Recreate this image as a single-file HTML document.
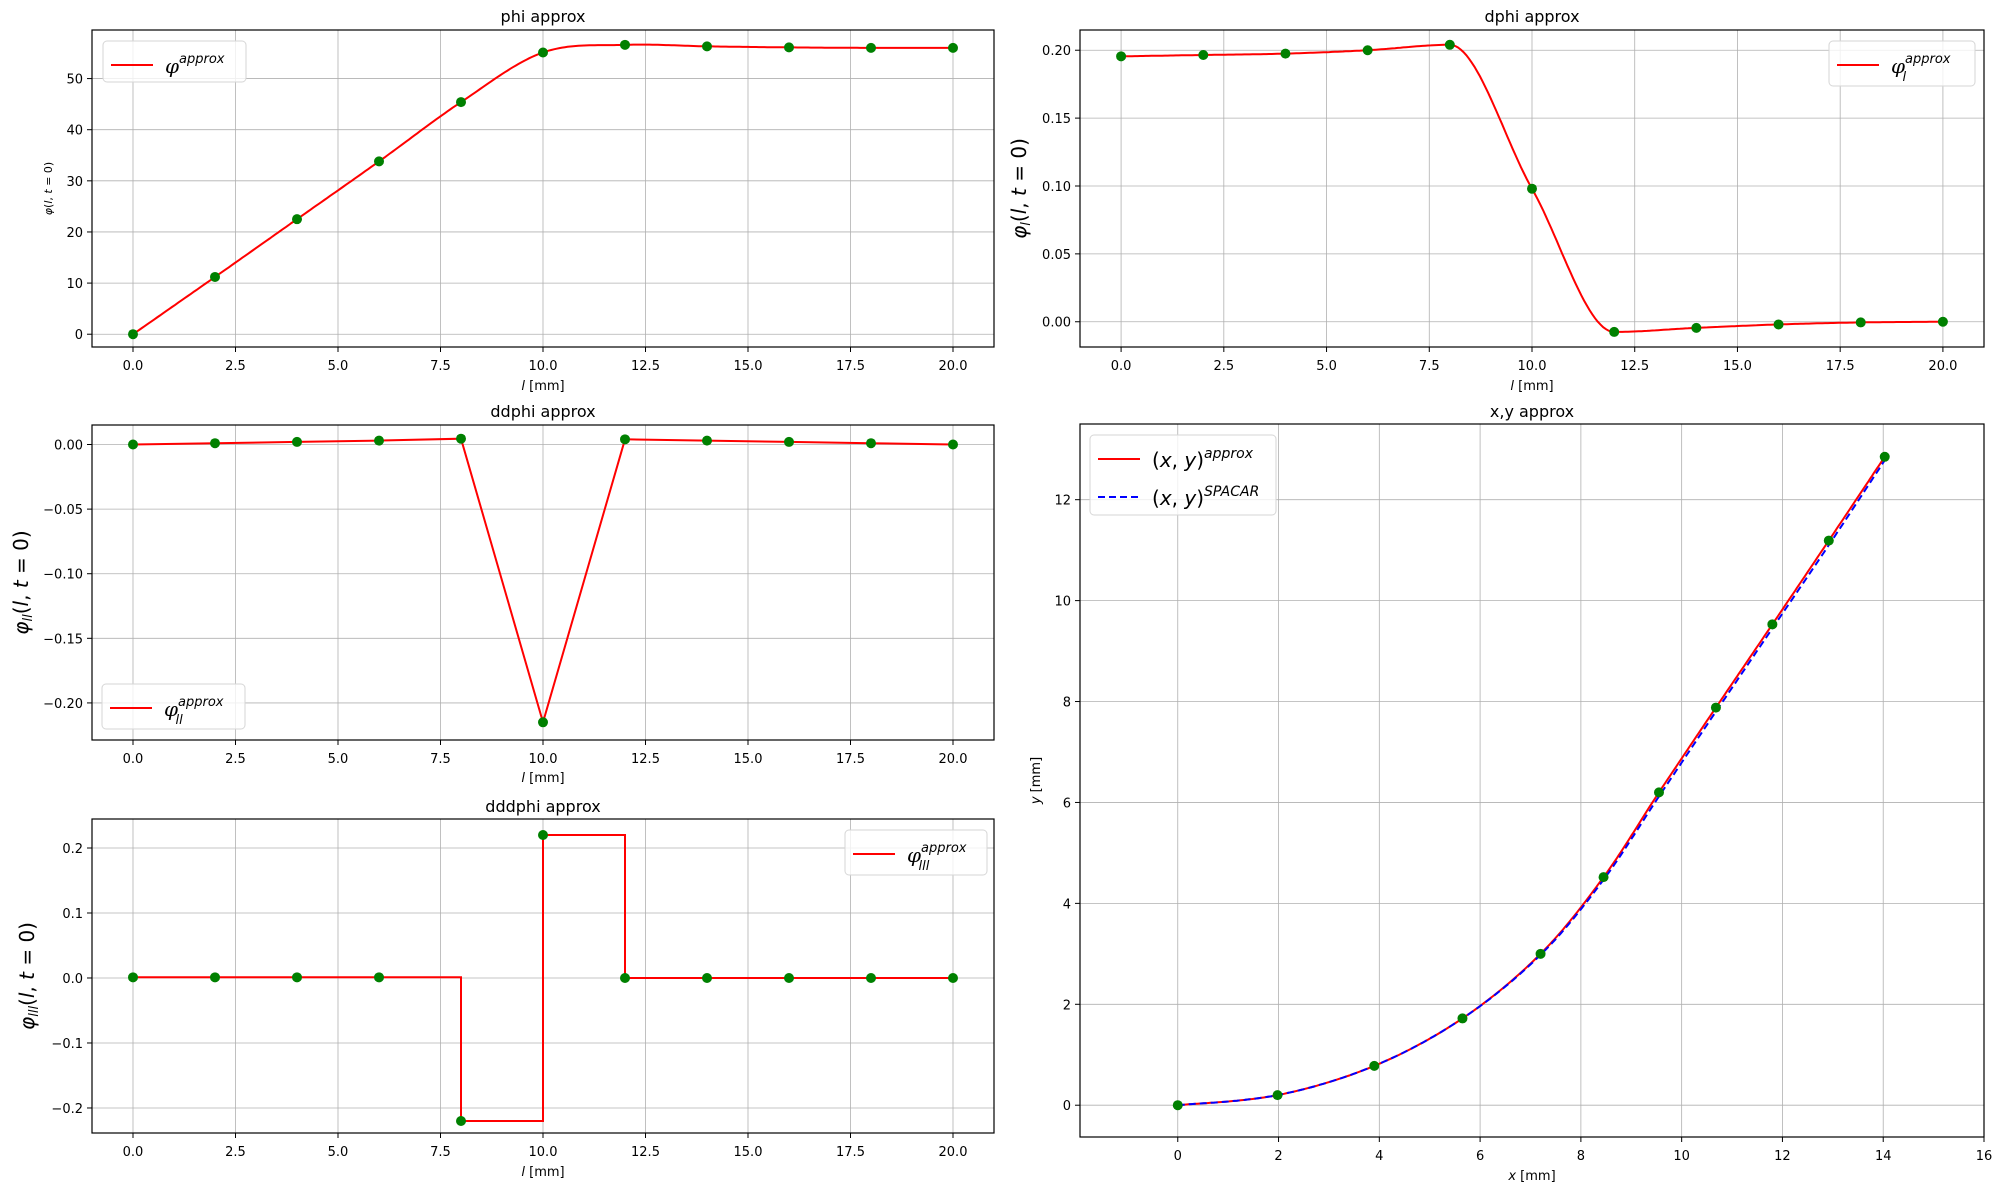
<!DOCTYPE html>
<html><head><meta charset="utf-8"><style>
body{margin:0;background:#fff}
svg{display:block;font-family:"DejaVu Sans","Liberation Sans",sans-serif}
</style></head><body>
<svg id="fig" width="1997" height="1189" viewBox="0 0 1997 1189" xmlns="http://www.w3.org/2000/svg"></svg>
<script>
const lPts=[0,2,4,6,8,10,12,14,16,18,20];
const phiVals=[0,11.2,22.5,33.8,45.4,55.1,56.6,56.3,56.1,56.0,56.0];
const dphiVals=[0.1955,0.1965,0.1975,0.200,0.204,0.098,-0.0075,-0.0045,-0.002,-0.0005,0];
const ddphiVals=[0,0.001,0.002,0.003,0.0045,-0.215,0.004,0.003,0.002,0.001,0];
const dddphiVals=[0.001,0.001,0.001,0.001,-0.22,0.22,0,0,0,0,0];
const xyX=[0,1.98,3.9,5.65,7.2,8.45,9.55,10.68,11.8,12.92,14.03];
const xyY=[0,0.2,0.78,1.72,3.0,4.52,6.2,7.88,9.53,11.19,12.85];
const spX=[0,1.98,3.9,5.65,7.2,8.45,9.55,10.68,11.8,12.92,14.03];
const spY=[0,0.2,0.78,1.72,2.98,4.47,6.12,7.8,9.45,11.1,12.78];
const lTicks=[0,2.5,5,7.5,10,12.5,15,17.5,20];
const lTickLabels=["0.0","2.5","5.0","7.5","10.0","12.5","15.0","17.5","20.0"];

const NS="http://www.w3.org/2000/svg";
const svg=document.getElementById('fig');
function mk(tag,attrs,parent){const e=document.createElementNS(NS,tag);for(const k in attrs)e.setAttribute(k,attrs[k]);(parent||svg).appendChild(e);return e;}
function txt(s,attrs,parent){const e=mk('text',attrs,parent);e.innerHTML=s;return e;}

function catmull(px,py,n){const out=[];for(let i=0;i<px.length-1;i++){const p0=[px[Math.max(i-1,0)],py[Math.max(i-1,0)]],p1=[px[i],py[i]],p2=[px[i+1],py[i+1]],p3=[px[Math.min(i+2,px.length-1)],py[Math.min(i+2,px.length-1)]];for(let k=0;k<n;k++){const t=k/n,t2=t*t,t3=t2*t;const f=(a,b,c,d)=>0.5*(2*b+(-a+c)*t+(2*a-5*b+4*c-d)*t2+(-a+3*b-3*c+d)*t3);out.push([f(p0[0],p1[0],p2[0],p3[0]),f(p0[1],p1[1],p2[1],p3[1])]);}}out.push([px[px.length-1],py[py.length-1]]);return out;}
function monotone(px,py,n){const N=px.length,d=[],m=[];for(let i=0;i<N-1;i++)d.push((py[i+1]-py[i])/(px[i+1]-px[i]));
  m[0]=d[0];m[N-1]=d[N-2];for(let i=1;i<N-1;i++){m[i]=(d[i-1]*d[i]<=0)?0:(d[i-1]+d[i])/2;}
  for(let i=0;i<N-1;i++){if(d[i]===0){m[i]=0;m[i+1]=0;continue;}const a=m[i]/d[i],b=m[i+1]/d[i],s=a*a+b*b;if(s>9){const t=3/Math.sqrt(s);m[i]=t*a*d[i];m[i+1]=t*b*d[i];}}
  const out=[];for(let i=0;i<N-1;i++){const h=px[i+1]-px[i];for(let k=0;k<n;k++){const t=k/n,t2=t*t,t3=t2*t;
    const y=(2*t3-3*t2+1)*py[i]+(t3-2*t2+t)*h*m[i]+(-2*t3+3*t2)*py[i+1]+(t3-t2)*h*m[i+1];out.push([px[i]+t*h,y]);}}
  out.push([px[N-1],py[N-1]]);return out;}

function panel(o){
  const g=mk('g',{});
  
  
  const X=v=>o.x0+(v-o.xmin)/(o.xmax-o.xmin)*(o.x1-o.x0);
  const Y=v=>o.y1-(v-o.ymin)/(o.ymax-o.ymin)*(o.y1-o.y0);
  const grid=mk('g',{},g);
  o.xt.forEach((v,i)=>{const x=X(v);mk('line',{x1:x,x2:x,y1:o.y0,y2:o.y1,stroke:'#b0b0b0','stroke-width':0.8},grid);
    mk('line',{x1:x,x2:x,y1:o.y1,y2:o.y1+5,stroke:'#000','stroke-width':1},g);
    const t=txt(o.xl[i],{x:x,y:o.y1+23,'font-size':13,'text-anchor':'middle'},g);});
  o.yt.forEach((v,i)=>{const y=Y(v);mk('line',{x1:o.x0,x2:o.x1,y1:y,y2:y,stroke:'#b0b0b0','stroke-width':0.8},grid);
    mk('line',{x1:o.x0-5,x2:o.x0,y1:y,y2:y,stroke:'#000','stroke-width':1},g);
    const t=txt(o.yl[i],{x:o.x0-9,y:y+5,'font-size':13,'text-anchor':'end'},g);});
  o.series.forEach(s=>{
    let pts;
    if(s.type==='spline')pts=catmull(s.x,s.y,30);
    else if(s.type==='mono')pts=monotone(s.x,s.y,30);
    else if(s.type==='step'){pts=[];for(let i=0;i<s.x.length;i++){if(i>0)pts.push([s.x[i],s.y[i-1]]);pts.push([s.x[i],s.y[i]]);}}
    else pts=s.x.map((v,i)=>[v,s.y[i]]);
    const p=mk('polyline',{points:pts.map(q=>X(q[0]).toFixed(1)+','+Y(q[1]).toFixed(1)).join(' '),fill:'none',stroke:s.color,'stroke-width':2,'stroke-dasharray':s.dash||'none'},g);
    
  });
  o.marks.forEach(m=>{m.x.forEach((v,i)=>{const c=mk('ellipse',{cx:X(v),cy:Y(m.y[i]),rx:5,ry:5,fill:'#008000'},g);
    });});
  mk('rect',{x:o.x0,y:o.y0,width:o.x1-o.x0,height:o.y1-o.y0,fill:'none',stroke:'#000','stroke-width':1.2},g);
  const tt=txt(o.title,{x:(o.x0+o.x1)/2,y:o.ty,'font-size':16,'text-anchor':'middle'},g);
  const xl=txt('<tspan font-style="italic">l</tspan> [mm]',{x:(o.x0+o.x1)/2,y:o.xly,'font-size':13,'text-anchor':'middle'},g);
  if(o.xlab)xl.innerHTML=o.xlab;
  const cy=(o.y0+o.y1)/2;
  const yl=txt(o.ylab,{x:o.ylx,y:cy,'font-size':o.yls,'text-anchor':'middle',transform:`rotate(-90 ${o.ylx} ${cy})`},g);
  const L=o.leg;const lg=mk('g',{},g);
  mk('rect',{x:L.x,y:L.y,width:L.w,height:L.h,rx:4,fill:'#fff','fill-opacity':0.8,stroke:'#d6d6d6'},lg);
  L.items.forEach((it,i)=>{const yy=L.y+24+i*38;mk('line',{x1:L.x+8,x2:L.x+50,y1:yy,y2:yy,stroke:it.color,'stroke-width':2,'stroke-dasharray':it.dash||'none'},lg);
    const e=txt(it.label,{x:L.x+62,y:yy+8,'font-size':20},lg);});
}
const phiLab=sub=>`<tspan font-style="italic" font-family="DejaVu Serif,serif">φ</tspan><tspan font-size="13" font-style="italic" dy="-10">approx</tspan>`+(sub?`<tspan font-size="13" font-style="italic" dx="-48" dy="18">${sub}</tspan>`:'');

panel({name:'phi-panel',x0:92,x1:994,y0:30,y1:347,xmin:-1,xmax:21,ymin:-2.5,ymax:59.5,
 xt:lTicks,xl:lTickLabels,yt:[0,10,20,30,40,50],yl:["0","10","20","30","40","50"],
 series:[{type:'spline',x:lPts,y:phiVals,color:'#ff0000',name:'phi-curve'}],marks:[{x:lPts,y:phiVals}],
 title:'phi approx',ty:22,xly:390,ylab:'<tspan font-style="italic">φ</tspan>(<tspan font-style="italic">l</tspan>, <tspan font-style="italic">t</tspan> = 0)',ylx:52,yls:11,
 leg:{x:103,y:41,w:143,h:41,items:[{color:'#ff0000',label:phiLab('')}]}});
panel({name:'dphi-panel',x0:1080,x1:1984,y0:30,y1:347,xmin:-1,xmax:21,ymin:-0.0186,ymax:0.2149,
 xt:lTicks,xl:lTickLabels,yt:[0,0.05,0.1,0.15,0.2],yl:["0.00","0.05","0.10","0.15","0.20"],
 series:[{type:'mono',x:lPts,y:dphiVals,color:'#ff0000',name:'dphi-curve'}],marks:[{x:lPts,y:dphiVals}],
 title:'dphi approx',ty:22,xly:390,ylab:'<tspan font-style="italic">φ</tspan><tspan font-size="13" font-style="italic" dy="4">l</tspan><tspan dy="-4">(</tspan><tspan font-style="italic">l</tspan>, <tspan font-style="italic">t</tspan> = 0)',ylx:1026,yls:20,
 leg:{x:1829,y:41,w:146,h:45,items:[{color:'#ff0000',label:phiLab('l')}]}});
panel({name:'ddphi-panel',x0:92,x1:994,y0:425,y1:740,xmin:-1,xmax:21,ymin:-0.2287,ymax:0.0151,
 xt:lTicks,xl:lTickLabels,yt:[0,-0.05,-0.1,-0.15,-0.2],yl:["0.00","−0.05","−0.10","−0.15","−0.20"],
 series:[{type:'line',x:lPts,y:ddphiVals,color:'#ff0000',name:'ddphi-curve'}],marks:[{x:lPts,y:ddphiVals}],
 title:'ddphi approx',ty:417,xly:782,ylab:'<tspan font-style="italic">φ</tspan><tspan font-size="13" font-style="italic" dy="4">ll</tspan><tspan dy="-4">(</tspan><tspan font-style="italic">l</tspan>, <tspan font-style="italic">t</tspan> = 0)',ylx:28,yls:20,
 leg:{x:102,y:684,w:143,h:45,items:[{color:'#ff0000',label:phiLab('ll')}]}});
panel({name:'dddphi-panel',x0:92,x1:994,y0:819,y1:1133,xmin:-1,xmax:21,ymin:-0.2385,ymax:0.2446,
 xt:lTicks,xl:lTickLabels,yt:[-0.2,-0.1,0,0.1,0.2],yl:["−0.2","−0.1","0.0","0.1","0.2"],
 series:[{type:'step',x:lPts,y:dddphiVals,color:'#ff0000',name:'dddphi-curve'}],marks:[{x:lPts,y:dddphiVals}],
 title:'dddphi approx',ty:812,xly:1176,ylab:'<tspan font-style="italic">φ</tspan><tspan font-size="13" font-style="italic" dy="4">lll</tspan><tspan dy="-4">(</tspan><tspan font-style="italic">l</tspan>, <tspan font-style="italic">t</tspan> = 0)',ylx:34,yls:20,
 leg:{x:845,y:830,w:142,h:45,items:[{color:'#ff0000',label:phiLab('lll')}]}});
panel({name:'xy-panel',x0:1080,x1:1984,y0:424,y1:1137,xmin:-1.94,xmax:16,ymin:-0.63,ymax:13.5,
 xt:[0,2,4,6,8,10,12,14,16],xl:["0","2","4","6","8","10","12","14","16"],yt:[0,2,4,6,8,10,12],yl:["0","2","4","6","8","10","12"],
 series:[{type:'spline',x:xyX,y:xyY,color:'#ff0000',name:'xy-approx-curve'},{type:'spline',x:spX,y:spY,color:'#0000ff',dash:'7,4',name:'xy-spacar-curve'}],
 marks:[{x:xyX,y:xyY}],
 title:'x,y approx',ty:417,xly:1180,xlab:'<tspan font-style="italic">x</tspan> [mm]',ylab:'<tspan font-style="italic">y</tspan> [mm]',ylx:1040,yls:13,
 leg:{x:1090,y:435,w:186,h:80,items:[{color:'#ff0000',label:'(<tspan font-style="italic">x</tspan>, <tspan font-style="italic">y</tspan>)<tspan font-size="14" font-style="italic" dy="-9">approx</tspan>'},{color:'#0000ff',dash:'7,4',label:'(<tspan font-style="italic">x</tspan>, <tspan font-style="italic">y</tspan>)<tspan font-size="14" font-style="italic" dy="-9">SPACAR</tspan>'}]}});
</script>
</body></html>
